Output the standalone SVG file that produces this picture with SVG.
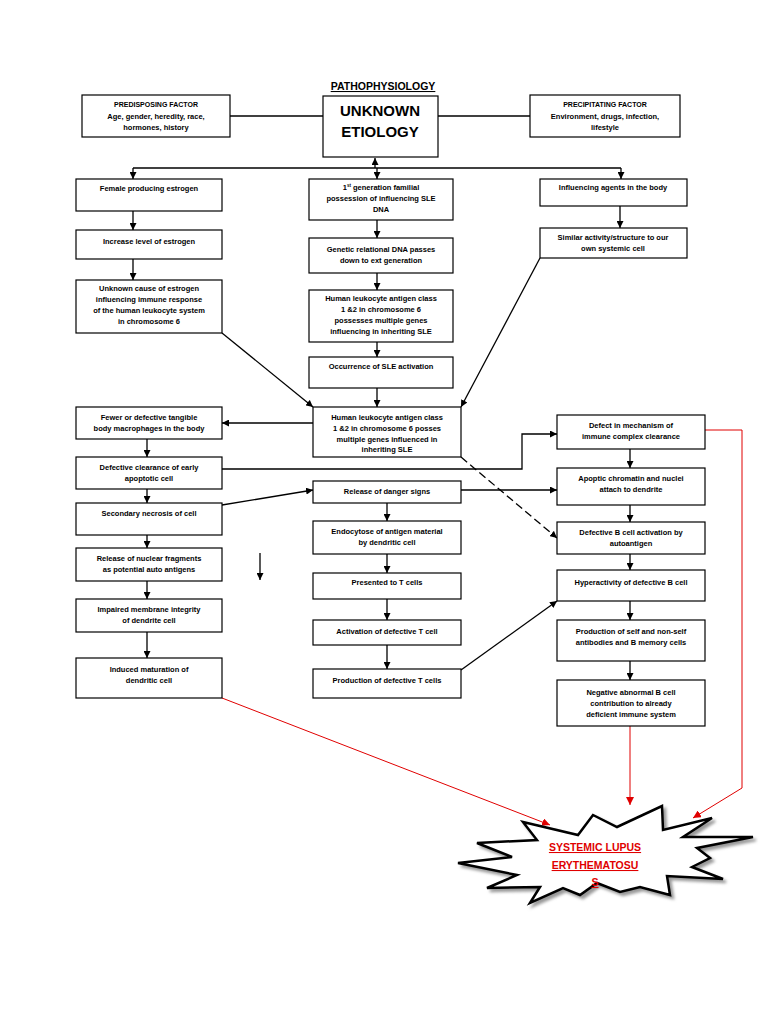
<svg xmlns="http://www.w3.org/2000/svg" width="768" height="1024" viewBox="0 0 768 1024">
<style>
.b{fill:#fff;stroke:#000;stroke-width:1.2}
.t{font-family:"Liberation Sans",Arial,sans-serif;font-size:7.5px;font-weight:bold;text-anchor:middle;fill:#000}
.c{fill:none;stroke:#000;stroke-width:1.3}
.r{fill:none;stroke:#e00000;stroke-width:1}
.s{font-family:"Liberation Sans",Arial,sans-serif;font-size:10.5px;font-weight:bold;text-anchor:middle;fill:#e00000;text-decoration:underline}
</style>
<defs>
<marker id="ah" viewBox="0 0 10 10" refX="10" refY="5" markerWidth="7" markerHeight="7" orient="auto" markerUnits="userSpaceOnUse"><path d="M0,0 L10,5 L0,10 z" fill="#000"/></marker>
<marker id="ahr" viewBox="0 0 10 10" refX="10" refY="5" markerWidth="8" markerHeight="8" orient="auto" markerUnits="userSpaceOnUse"><path d="M0,0 L10,5 L0,10 z" fill="#e00000"/></marker>
<filter id="sh" x="-10%" y="-10%" width="130%" height="140%"><feGaussianBlur stdDeviation="1.5"/></filter>
</defs>
<rect width="768" height="1024" fill="#fff"/>
<text x="383" y="90" style="font-family:'Liberation Sans',Arial,sans-serif;font-size:10.5px;font-weight:bold;text-anchor:middle;text-decoration:underline">PATHOPHYSIOLOGY</text>

<g id="connectors">
<line class="c" x1="230" y1="116" x2="323" y2="116" stroke-width="1"/>
<line class="c" x1="438" y1="116" x2="530" y2="116" stroke-width="1"/>
<line class="c" x1="133" y1="168" x2="621" y2="168"/>
<line class="c" x1="375" y1="168" x2="375" y2="158" marker-end="url(#ah)"/>
<line class="c" x1="133" y1="168" x2="133" y2="179" marker-end="url(#ah)"/>
<line class="c" x1="377" y1="168" x2="377" y2="179" marker-end="url(#ah)"/>
<line class="c" x1="621" y1="168" x2="621" y2="179" marker-end="url(#ah)"/>
<line class="c" x1="133" y1="211" x2="133" y2="230" marker-end="url(#ah)"/>
<line class="c" x1="133" y1="259" x2="133" y2="280" marker-end="url(#ah)"/>
<line class="c" x1="377" y1="220" x2="377" y2="238" marker-end="url(#ah)"/>
<line class="c" x1="377" y1="273" x2="377" y2="290" marker-end="url(#ah)"/>
<line class="c" x1="377" y1="342" x2="377" y2="357" marker-end="url(#ah)"/>
<line class="c" x1="377" y1="388" x2="377" y2="407" marker-end="url(#ah)"/>
<line class="c" x1="620" y1="206" x2="620" y2="228" marker-end="url(#ah)"/>
<line class="c" x1="222" y1="333" x2="313" y2="407" marker-end="url(#ah)"/>
<line class="c" x1="540" y1="258" x2="461" y2="407" marker-end="url(#ah)"/>
<line class="c" x1="313" y1="423" x2="222" y2="423" marker-end="url(#ah)"/>
<line class="c" x1="147" y1="439" x2="147" y2="457" marker-end="url(#ah)"/>
<line class="c" x1="147" y1="489" x2="147" y2="503" marker-end="url(#ah)"/>
<line class="c" x1="147" y1="535" x2="147" y2="548" marker-end="url(#ah)"/>
<line class="c" x1="147" y1="581" x2="147" y2="599" marker-end="url(#ah)"/>
<line class="c" x1="147" y1="632" x2="147" y2="658" marker-end="url(#ah)"/>
<polyline class="c" points="222,469 522,469 522,434 557,434" marker-end="url(#ah)"/>
<line class="c" x1="222" y1="505" x2="313" y2="490" marker-end="url(#ah)"/>
<line class="c" x1="461" y1="490" x2="557" y2="490" marker-end="url(#ah)"/>
<line class="c" x1="461" y1="457" x2="557" y2="538" stroke-dasharray="8,4" marker-end="url(#ah)"/>
<line class="c" x1="387" y1="503" x2="387" y2="521" marker-end="url(#ah)"/>
<line class="c" x1="387" y1="554" x2="387" y2="573" marker-end="url(#ah)"/>
<line class="c" x1="387" y1="599" x2="387" y2="620" marker-end="url(#ah)"/>
<line class="c" x1="387" y1="645" x2="387" y2="669" marker-end="url(#ah)"/>
<line class="c" x1="461" y1="670" x2="557" y2="601" marker-end="url(#ah)"/>
<line class="c" x1="630" y1="449" x2="630" y2="468" marker-end="url(#ah)"/>
<line class="c" x1="630" y1="505" x2="630" y2="522" marker-end="url(#ah)"/>
<line class="c" x1="630" y1="554" x2="630" y2="570" marker-end="url(#ah)"/>
<line class="c" x1="630" y1="601" x2="630" y2="620" marker-end="url(#ah)"/>
<line class="c" x1="630" y1="661" x2="630" y2="680" marker-end="url(#ah)"/>
<line class="c" x1="260" y1="553" x2="260" y2="580" stroke-width="1" marker-end="url(#ah)"/>
<line class="r" x1="222" y1="698" x2="550" y2="825" marker-end="url(#ahr)"/>
<line class="r" x1="630" y1="726" x2="630" y2="805" marker-end="url(#ahr)"/>
<polyline class="r" points="705,430 742,430 742,788 693,818" marker-end="url(#ahr)"/>
</g>

<g id="predisposing"><rect class="b" x="82" y="95" width="148" height="42"/>
<text class="t" x="156" y="107" style="font-size:7px">PREDISPOSING FACTOR</text>
<text class="t" x="156" y="119">Age, gender, heredity, race,</text>
<text class="t" x="156" y="130">hormones, history</text></g>

<g id="unknown"><rect class="b" x="323" y="96" width="115" height="61"/>
<text class="t" x="380" y="116" style="font-size:15px">UNKNOWN</text>
<text class="t" x="380" y="137" style="font-size:15px">ETIOLOGY</text></g>

<g id="precipitating"><rect class="b" x="530" y="95" width="150" height="42"/>
<text class="t" x="605" y="107" style="font-size:7px">PRECIPITATING FACTOR</text>
<text class="t" x="605" y="119">Environment, drugs, infection,</text>
<text class="t" x="605" y="130">lifestyle</text></g>

<g id="female"><rect class="b" x="76" y="179" width="146" height="32"/>
<text class="t" x="149" y="191">Female producing estrogen</text></g>
<g id="increase"><rect class="b" x="76" y="230" width="146" height="29"/>
<text class="t" x="149" y="244">Increase level of estrogen</text></g>
<g id="unknowncause"><rect class="b" x="76" y="280" width="146" height="53"/>
<text class="t" x="149" y="291">Unknown cause of estrogen</text>
<text class="t" x="149" y="302">influencing immune response</text>
<text class="t" x="149" y="313">of the human leukocyte system</text>
<text class="t" x="149" y="324">in chromosome 6</text></g>

<g id="firstgen"><rect class="b" x="309" y="179" width="144" height="41"/>
<text class="t" x="381" y="190">1<tspan style="font-size:4.5px" dy="-3">st</tspan><tspan dy="3"> generation familial</tspan></text>
<text class="t" x="381" y="201">possession of influencing SLE</text>
<text class="t" x="381" y="212">DNA</text></g>
<g id="genetic"><rect class="b" x="309" y="238" width="144" height="35"/>
<text class="t" x="381" y="252">Genetic relational DNA passes</text>
<text class="t" x="381" y="263">down to ext generation</text></g>
<g id="hla1"><rect class="b" x="309" y="290" width="144" height="52"/>
<text class="t" x="381" y="301">Human leukocyte antigen class</text>
<text class="t" x="381" y="312">1 &amp;2 in chromosome 6</text>
<text class="t" x="381" y="323">possesses multiple genes</text>
<text class="t" x="381" y="334">influencing in inheriting SLE</text></g>
<g id="occurrence"><rect class="b" x="309" y="357" width="144" height="31"/>
<text class="t" x="381" y="369">Occurrence of SLE activation</text></g>

<g id="influencing"><rect class="b" x="540" y="179" width="147" height="27"/>
<text class="t" x="613" y="190">Influencing agents in the body</text></g>
<g id="similar"><rect class="b" x="540" y="228" width="147" height="30"/>
<text class="t" x="613" y="240">Similar activity/structure to our</text>
<text class="t" x="613" y="251">own systemic cell</text></g>

<g id="hla2"><rect class="b" x="313" y="407" width="148" height="50"/>
<text class="t" x="387" y="420">Human leukocyte antigen class</text>
<text class="t" x="387" y="431">1 &amp;2 in chromosome 6 posses</text>
<text class="t" x="387" y="442">multiple genes influenced in</text>
<text class="t" x="387" y="452">inheriting SLE</text></g>

<g id="fewer"><rect class="b" x="76" y="407" width="146" height="32"/>
<text class="t" x="149" y="420">Fewer or defective tangible</text>
<text class="t" x="149" y="431">body macrophages in the body</text></g>
<g id="defclear"><rect class="b" x="76" y="457" width="146" height="32"/>
<text class="t" x="149" y="470">Defective clearance of early</text>
<text class="t" x="149" y="481">apoptotic cell</text></g>
<g id="secondary"><rect class="b" x="76" y="503" width="146" height="32"/>
<text class="t" x="149" y="516">Secondary necrosis of cell</text></g>
<g id="release"><rect class="b" x="76" y="548" width="146" height="33"/>
<text class="t" x="149" y="561">Release of nuclear fragments</text>
<text class="t" x="149" y="572">as potential auto antigens</text></g>
<g id="impaired"><rect class="b" x="76" y="599" width="146" height="33"/>
<text class="t" x="149" y="612">Impaired membrane integrity</text>
<text class="t" x="149" y="623">of dendrite cell</text></g>
<g id="induced"><rect class="b" x="76" y="658" width="146" height="40"/>
<text class="t" x="149" y="672">Induced maturation of</text>
<text class="t" x="149" y="683">dendritic cell</text></g>

<g id="danger"><rect class="b" x="313" y="481" width="148" height="22"/>
<text class="t" x="387" y="494">Release of danger signs</text></g>
<g id="endocytose"><rect class="b" x="313" y="521" width="148" height="33"/>
<text class="t" x="387" y="534">Endocytose of antigen material</text>
<text class="t" x="387" y="545">by dendritic cell</text></g>
<g id="presented"><rect class="b" x="313" y="573" width="148" height="26"/>
<text class="t" x="387" y="585">Presented to T cells</text></g>
<g id="activation"><rect class="b" x="313" y="620" width="148" height="25"/>
<text class="t" x="387" y="634">Activation of defective T cell</text></g>
<g id="prodT"><rect class="b" x="313" y="669" width="148" height="29"/>
<text class="t" x="387" y="683">Production of defective T cells</text></g>

<g id="defect"><rect class="b" x="557" y="415" width="148" height="34"/>
<text class="t" x="631" y="428">Defect in mechanism of</text>
<text class="t" x="631" y="439">immune complex clearance</text></g>
<g id="apoptic"><rect class="b" x="557" y="468" width="148" height="37"/>
<text class="t" x="631" y="481">Apoptic chromatin and nuclei</text>
<text class="t" x="631" y="492">attach to dendrite</text></g>
<g id="defB"><rect class="b" x="557" y="522" width="148" height="32"/>
<text class="t" x="631" y="535">Defective B cell activation by</text>
<text class="t" x="631" y="546">autoantigen</text></g>
<g id="hyper"><rect class="b" x="557" y="570" width="148" height="31"/>
<text class="t" x="631" y="585">Hyperactivity of defective B cell</text></g>
<g id="prodself"><rect class="b" x="557" y="620" width="148" height="41"/>
<text class="t" x="631" y="634">Production of self and non-self</text>
<text class="t" x="631" y="645">antibodies and B memory cells</text></g>
<g id="negative"><rect class="b" x="557" y="680" width="148" height="46"/>
<text class="t" x="631" y="695">Negative abnormal B cell</text>
<text class="t" x="631" y="706">contribution to already</text>
<text class="t" x="631" y="717">deficient immune system</text></g>

<g id="sle">
<polygon transform="translate(3,3)" fill="#999" stroke="#999" stroke-width="2.5" filter="url(#sh)" points="523,822 578,835 593,815 617,827 662,806 663,830 712,818 683,837 753,837 697,848 710,858 692,867 723,879 667,876 670,895 640,887 620,892 597,883 580,895 563,888 530,903 540,887 487,888 517,875 458,863 512,857 477,843 537,840"/>
<polygon fill="#fff" stroke="#000" stroke-width="2.5" stroke-linejoin="miter" points="523,822 578,835 593,815 617,827 662,806 663,830 712,818 683,837 753,837 697,848 710,858 692,867 723,879 667,876 670,895 640,887 620,892 597,883 580,895 563,888 530,903 540,887 487,888 517,875 458,863 512,857 477,843 537,840"/>
<text class="s" x="595" y="851">SYSTEMIC LUPUS</text>
<text class="s" x="595" y="869">ERYTHEMATOSU</text>
<text class="s" x="595" y="886">S</text>
</g>
</svg>
